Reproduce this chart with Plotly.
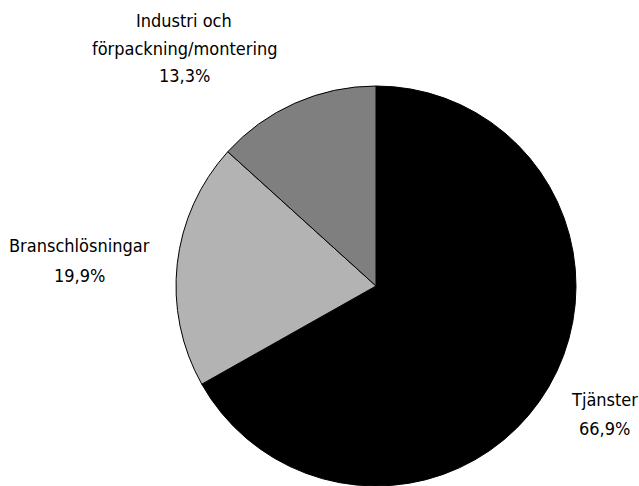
import plotly.graph_objects as go

# Omsättning per affärsområde (andel i procent)
labels = ["Tjänster", "Branschlösningar", "Industri och<br>förpackning/montering"]
values = [66.9, 19.9, 13.3]
colors = ["#000000", "#b3b3b3", "#7f7f7f"]

W, H = 639, 486
FONT = "DejaVu Sans Condensed"

fig = go.Figure(
    go.Pie(
        labels=labels,
        values=values,
        sort=False,
        direction="clockwise",
        rotation=0,
        marker=dict(colors=colors, line=dict(color="#000000", width=1)),
        textinfo="none",
        hoverinfo="label+percent",
        showlegend=False,
        domain=dict(x=[(376 - 200) / W, (376 + 200) / W], y=[0, 400 / H]),
    )
)

# Etiketter utanför cirkeln: namn + andel med decimalkomma,
# en rad per annotation för att styra radavståndet
label_pos = [(604, 399, 29), (79, 245, 30), (184, 21, 27)]  # x, första radens mitt, radavstånd
for lab, val, (px, py, step) in zip(labels, values, label_pos):
    pct = f"{val:.1f}".replace(".", ",") + "%"
    lines = lab.split("<br>") + [pct]
    for i, line in enumerate(lines):
        fig.add_annotation(
            x=px / W, y=1 - (py + i * step) / H, xref="paper", yref="paper",
            text=line, showarrow=False,
            xanchor="center", yanchor="middle", align="center",
            font=dict(family=FONT, size=18, color="#000000"),
        )

fig.update_layout(
    width=W, height=H,
    margin=dict(l=0, r=0, t=0, b=0),
    paper_bgcolor="#ffffff",
    plot_bgcolor="#ffffff",
)

fig.write_html("out.html")
